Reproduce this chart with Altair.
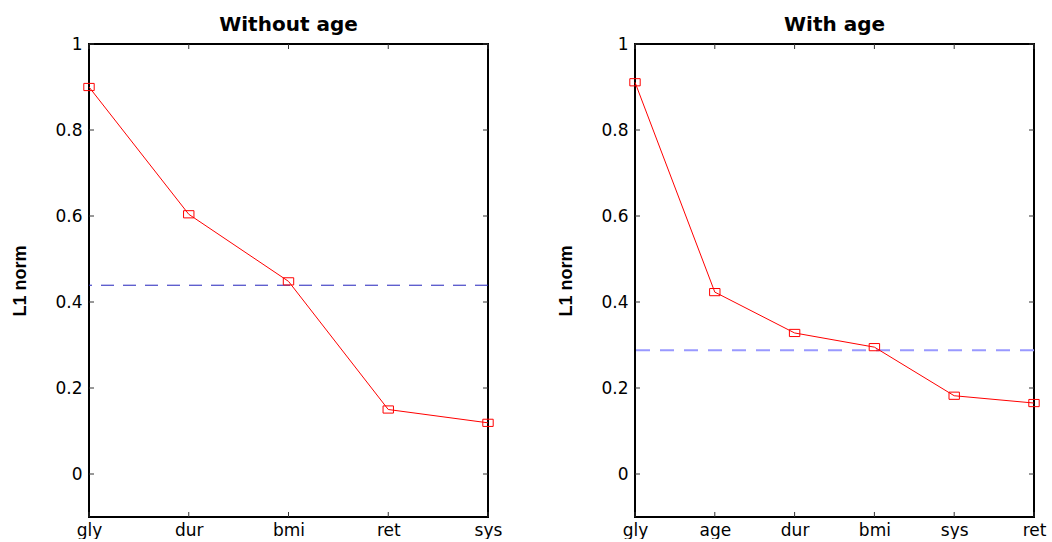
import altair as alt
import pandas as pd

# ---- data ----
left_title = "Without age"
left_cats = ["gly", "dur", "bmi", "ret", "sys"]
left_vals = [0.900, 0.604, 0.448, 0.150, 0.119]
left_threshold = [0.439]

right_title = "With age"
right_cats = ["gly", "age", "dur", "bmi", "sys", "ret"]
right_vals = [0.911, 0.423, 0.328, 0.295, 0.182, 0.165]
right_threshold = [0.288]

y_ticks = [0, 0.2, 0.4, 0.6, 0.8, 1]
y_domain = [-0.1, 1]

W, H = 399, 473
TICK = 5
RECT = "M-1.3,-0.9L1.3,-0.9L1.3,0.9L-1.3,0.9Z"


def panel(title, cats, vals, thr, thr_color, thr_width, thr_dash):
    df = pd.DataFrame({"var": cats, "val": vals})
    xdef = alt.X(
        "var:N", sort=cats,
        scale=alt.Scale(type="point", padding=0),
        axis=alt.Axis(title=None, labelAngle=0, ticks=False, domain=False, grid=False,
                      labelFontSize=17, labelFont="DejaVu Sans", labelColor="black",
                      labelPadding=5),
    )
    ydef = alt.Y(
        "val:Q",
        scale=alt.Scale(domain=y_domain, nice=False, zero=False),
        axis=alt.Axis(title="L1 norm", values=y_ticks, format="~g", ticks=False,
                      domain=False, grid=False, labelFontSize=17, labelFont="DejaVu Sans",
                      labelColor="black", labelPadding=7,
                      titleFont="Liberation Sans", titleFontSize=18, titleFontWeight="bold",
                      titleColor="black", titlePadding=25),
    )
    line = alt.Chart(df).mark_line(color="#ff0000", strokeWidth=1).encode(x=xdef, y=ydef)
    pts = alt.Chart(df).mark_point(shape=RECT, size=64, filled=False, color="#ff0000",
                                   strokeWidth=1, opacity=1).encode(x=xdef, y=ydef)
    thr_df = pd.DataFrame({"val": thr})
    rule = alt.Chart(thr_df).mark_rule(color=thr_color, strokeWidth=thr_width,
                                       strokeDash=thr_dash).encode(y=ydef)
    xt = pd.DataFrame({"var": cats})
    yt = pd.DataFrame({"val": y_ticks})
    tick_style = dict(color="#333333", strokeWidth=1)
    xb = alt.Chart(xt).mark_rule(**tick_style).encode(x=xdef, y=alt.value(H), y2=alt.value(H - TICK))
    xtop = alt.Chart(xt).mark_rule(**tick_style).encode(x=xdef, y=alt.value(0), y2=alt.value(TICK))
    yl = alt.Chart(yt).mark_rule(**tick_style).encode(y=ydef, x=alt.value(0), x2=alt.value(TICK))
    yr = alt.Chart(yt).mark_rule(**tick_style).encode(y=ydef, x=alt.value(W - TICK), x2=alt.value(W))
    return alt.layer(xb, xtop, yl, yr, rule, line, pts).properties(
        width=W, height=H,
        title=alt.TitleParams(title, fontSize=20, font="DejaVu Sans", fontWeight="bold",
                              color="black", anchor="middle", offset=0),
    )


left = panel(left_title, left_cats, left_vals, left_threshold, "#2222bb", 1, [13, 9])
right = panel(right_title, right_cats, right_vals, right_threshold, "#9999ff", 2, [14, 10])

chart = alt.hconcat(left, right, spacing=53).properties(
    padding={"left": 10, "top": 14, "right": 0, "bottom": 0},
    background="white",
).configure_view(stroke="black", strokeWidth=2)

chart.save("out.html", embed_options={"renderer": "svg", "actions": False})
